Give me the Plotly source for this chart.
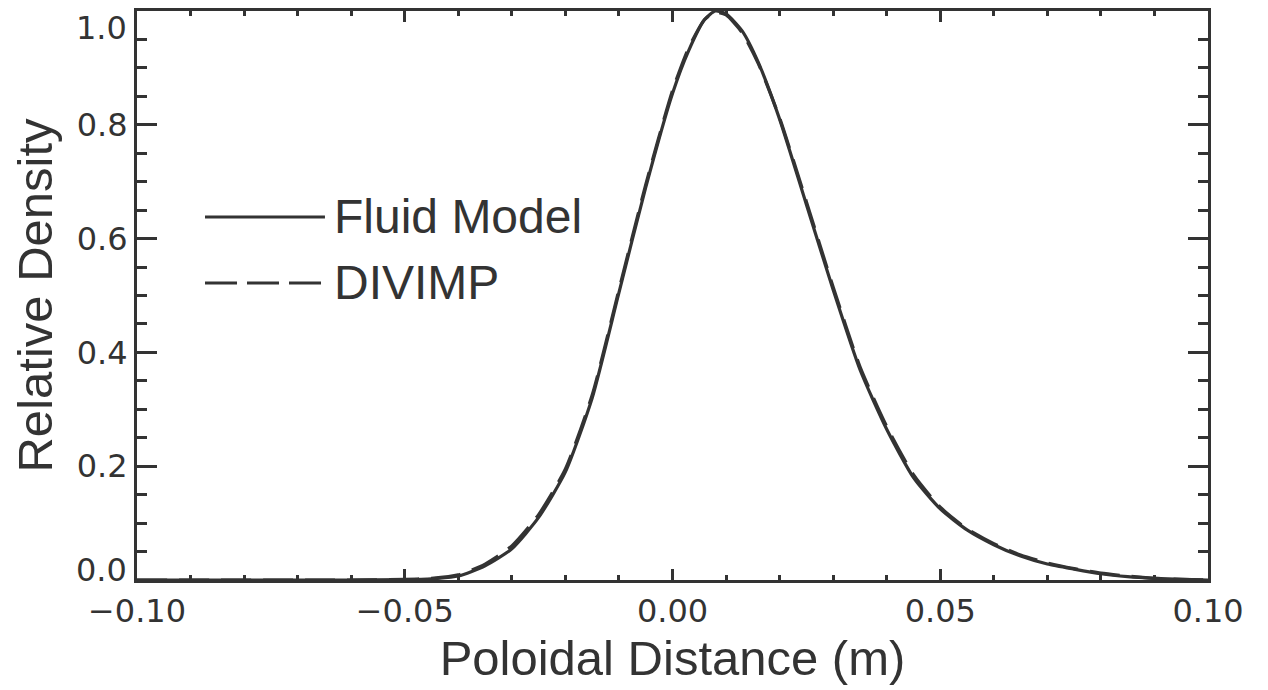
import plotly.graph_objects as go

# ---- data ----
x_fluid = [-0.100, -0.060, -0.050, -0.045, -0.040, -0.035, -0.030, -0.025, -0.020,
           -0.015, -0.010, -0.005, 0.000, 0.003, 0.006, 0.008, 0.010, 0.013, 0.016,
           0.020, 0.025, 0.030, 0.035, 0.040, 0.045, 0.050, 0.055, 0.060, 0.065,
           0.070, 0.075, 0.080, 0.085, 0.090, 0.095, 0.100]
y_fluid = [0.0, 0.0, 0.0005, 0.002, 0.007, 0.025, 0.055, 0.11, 0.19,
           0.32, 0.505, 0.69, 0.855, 0.93, 0.985, 1.0, 0.995, 0.965, 0.91,
           0.81, 0.66, 0.51, 0.37, 0.265, 0.18, 0.125, 0.088, 0.062, 0.042,
           0.028, 0.019, 0.011, 0.006, 0.003, 0.001, 0.0]

x_divimp = [-0.100, -0.060, -0.050, -0.045, -0.040, -0.035, -0.030, -0.025, -0.020,
            -0.015, -0.010, -0.005, 0.000, 0.003, 0.006, 0.008, 0.010, 0.013, 0.016,
            0.020, 0.025, 0.030, 0.035, 0.040, 0.045, 0.050, 0.055, 0.060, 0.065,
            0.070, 0.075, 0.080, 0.085, 0.090, 0.095, 0.100]
y_divimp = [0.0, 0.0, 0.001, 0.003, 0.009, 0.028, 0.060, 0.115, 0.195,
            0.325, 0.51, 0.695, 0.86, 0.935, 0.985, 0.998, 0.993, 0.962, 0.908,
            0.812, 0.665, 0.515, 0.375, 0.27, 0.185, 0.128, 0.09, 0.064, 0.044,
            0.030, 0.020, 0.012, 0.007, 0.003, 0.001, 0.0]

series_names = ["Fluid Model", "DIVIMP"]
x_tick_vals = [-0.10, -0.05, 0.00, 0.05, 0.10]
x_tick_text = ["\u22120.10", "\u22120.05", "0.00", "0.05", "0.10"]
y_tick_vals = [0.0, 0.2, 0.4, 0.6, 0.8, 1.0]
y_tick_text = ["0.0", "0.2", "0.4", "0.6", "0.8", "1.0"]

INK = "#333333"
LINE_W = 3.2

fig = go.Figure()
fig.add_trace(go.Scatter(x=x_fluid, y=y_fluid, mode="lines", name=series_names[0],
                         line=dict(color=INK, width=LINE_W, shape="spline", smoothing=0.6),
                         showlegend=False))
fig.add_trace(go.Scatter(x=x_divimp, y=y_divimp, mode="lines", name=series_names[1],
                         line=dict(color=INK, width=LINE_W, dash="30px,12px",
                                   shape="spline", smoothing=0.6),
                         showlegend=False))

# legend drawn in-plot (long sample lines like the original)
legend_y = [0.638, 0.522]
for i, (name, yy) in enumerate(zip(series_names, legend_y)):
    fig.add_shape(type="line", xref="paper", yref="paper",
                  x0=0.0635, x1=0.1755, y0=yy, y1=yy,
                  line=dict(color=INK, width=LINE_W,
                            dash="solid" if i == 0 else "32px,10px"))
    fig.add_annotation(xref="paper", yref="paper", x=0.182, y=yy, text=name,
                       showarrow=False, xanchor="left", yanchor="middle",
                       font=dict(family="Liberation Sans, Arial, sans-serif",
                                 size=48, color=INK))

tick_font = dict(family="DejaVu Sans, sans-serif", size=32, color=INK)
title_font = dict(family="Liberation Sans, Arial, sans-serif", size=49, color=INK)

# end labels of the y axis are nudged inward (as in the original) to clear the frame corners
end_shift = {0.0: 10, 1.0: -17}
y_tick_shown = [t if v not in end_shift else "" for v, t in zip(y_tick_vals, y_tick_text)]
for v, t in zip(y_tick_vals, y_tick_text):
    if v in end_shift:
        fig.add_annotation(xref="paper", yref="y", x=0, y=v, text=t,
                           showarrow=False, xanchor="right", yanchor="middle",
                           xshift=-9, yshift=end_shift[v], borderpad=0,
                           font=tick_font)

fig.update_xaxes(range=[-0.10, 0.10], tickmode="array", tickvals=x_tick_vals,
                 ticktext=x_tick_text, ticks="inside", ticklen=11, tickwidth=3,
                 tickcolor=INK, showline=True, linewidth=3, linecolor=INK,
                 mirror="allticks", showgrid=False, zeroline=False,
                 tickfont=tick_font, ticklabelstandoff=1, automargin=False,
                 title=dict(text="Poloidal Distance (m)", font=title_font, standoff=12),
                 minor=dict(dtick=0.01, tick0=0, ticks="inside", ticklen=5,
                            tickwidth=3, tickcolor=INK, showgrid=False))
fig.update_yaxes(range=[0.0, 1.0], tickmode="array", tickvals=y_tick_vals,
                 ticktext=y_tick_shown, ticks="inside", ticklen=20, tickwidth=3,
                 tickcolor=INK, showline=True, linewidth=3, linecolor=INK,
                 mirror="allticks", showgrid=False, zeroline=False,
                 tickfont=tick_font, automargin=False,
                 title=dict(text="Relative Density", font=title_font, standoff=14),
                 minor=dict(dtick=0.05, tick0=0, ticks="inside", ticklen=10,
                            tickwidth=3, tickcolor=INK, showgrid=False))

# page body has an 8px margin: size the figure so the frame lands where the original's does
fig.update_layout(width=1260, height=682, plot_bgcolor="white", paper_bgcolor="white",
                  margin=dict(l=129, r=60, t=3, b=110), showlegend=False)

fig.write_html("out.html")
